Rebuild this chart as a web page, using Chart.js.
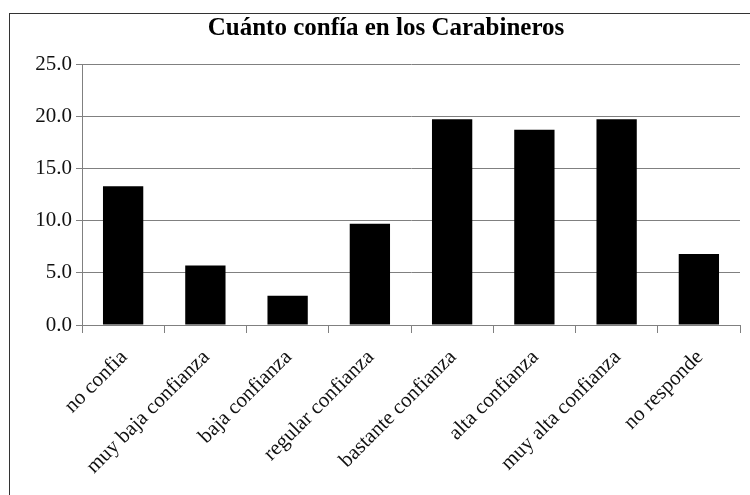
<!DOCTYPE html>
<html>
<head>
<meta charset="utf-8">
<script src="https://cdn.jsdelivr.net/npm/chart.js@4/dist/chart.umd.min.js"></script>
<style>
  html, body { margin: 0; padding: 0; background: #fff; }
  #wrap { position: relative; width: 750px; height: 495px; }
</style>
</head>
<body>
<div id="wrap"><canvas id="c" width="750" height="495"></canvas></div>
<script>
const categories = ["no confia", "muy baja confianza", "baja confianza", "regular confianza",
  "bastante confianza", "alta confianza", "muy alta confianza", "no responde"];
const values = [13.3, 5.7, 2.8, 9.7, 19.7, 18.7, 19.7, 6.8];
const yTicks = [0, 5, 10, 15, 20, 25];
const titleText = "Cuánto confía en los Carabineros";

const SERIF = "'Liberation Serif', 'Times New Roman', serif";
const GRID = '#808080';

const frame = {
  id: 'frame',
  beforeDraw(chart) {
    const ctx = chart.ctx;
    ctx.save();
    ctx.fillStyle = '#fff';
    ctx.fillRect(0, 0, chart.width, chart.height);
    ctx.strokeStyle = '#333';
    ctx.lineWidth = 1;
    ctx.strokeRect(9.5, 13.5, chart.width + 20, chart.height + 20);
    ctx.restore();
  }
};

new Chart(document.getElementById('c'), {
  type: 'bar',
  data: {
    labels: categories,
    datasets: [{
      data: values,
      backgroundColor: '#000',
      borderColor: '#000',
      borderWidth: 0,
      barPercentage: 0.49,
      categoryPercentage: 1.0
    }]
  },
  plugins: [frame],
  options: {
    responsive: false,
    animation: false,
    devicePixelRatio: 1,
    layout: { padding: { left: 32, right: 10, top: 0, bottom: 0 } },
    plugins: {
      legend: { display: false },
      tooltip: { enabled: false },
      title: {
        display: true,
        text: titleText,
        color: '#000',
        font: { family: SERIF, size: 25, weight: 'bold' },
        padding: { top: 14, bottom: 20 }
      }
    },
    scales: {
      x: {
        grid: {
          display: true,
          offset: true,
          drawOnChartArea: false,
          drawTicks: true,
          tickLength: 8,
          color: GRID
        },
        border: { display: true, color: GRID, width: 1 },
        ticks: {
          autoSkip: false,
          maxRotation: 45,
          minRotation: 45,
          padding: 12,
          labelOffset: 1,
          color: '#111',
          font: { family: SERIF, size: 21 }
        },
        afterFit(scale) { scale.height = 170; }
      },
      y: {
        min: 0,
        max: 25,
        afterBuildTicks(scale) { scale.ticks = yTicks.map(v => ({ value: v })); },
        grid: {
          color: GRID,
          tickLength: 6,
          drawTicks: true
        },
        border: { display: true, color: GRID, width: 1 },
        ticks: {
          padding: 4,
          color: '#111',
          font: { family: SERIF, size: 21 },
          callback: v => Number(v).toFixed(1)
        },
        afterFit(scale) { scale.width = 50; }
      }
    }
  }
});
</script>
</body>
</html>
